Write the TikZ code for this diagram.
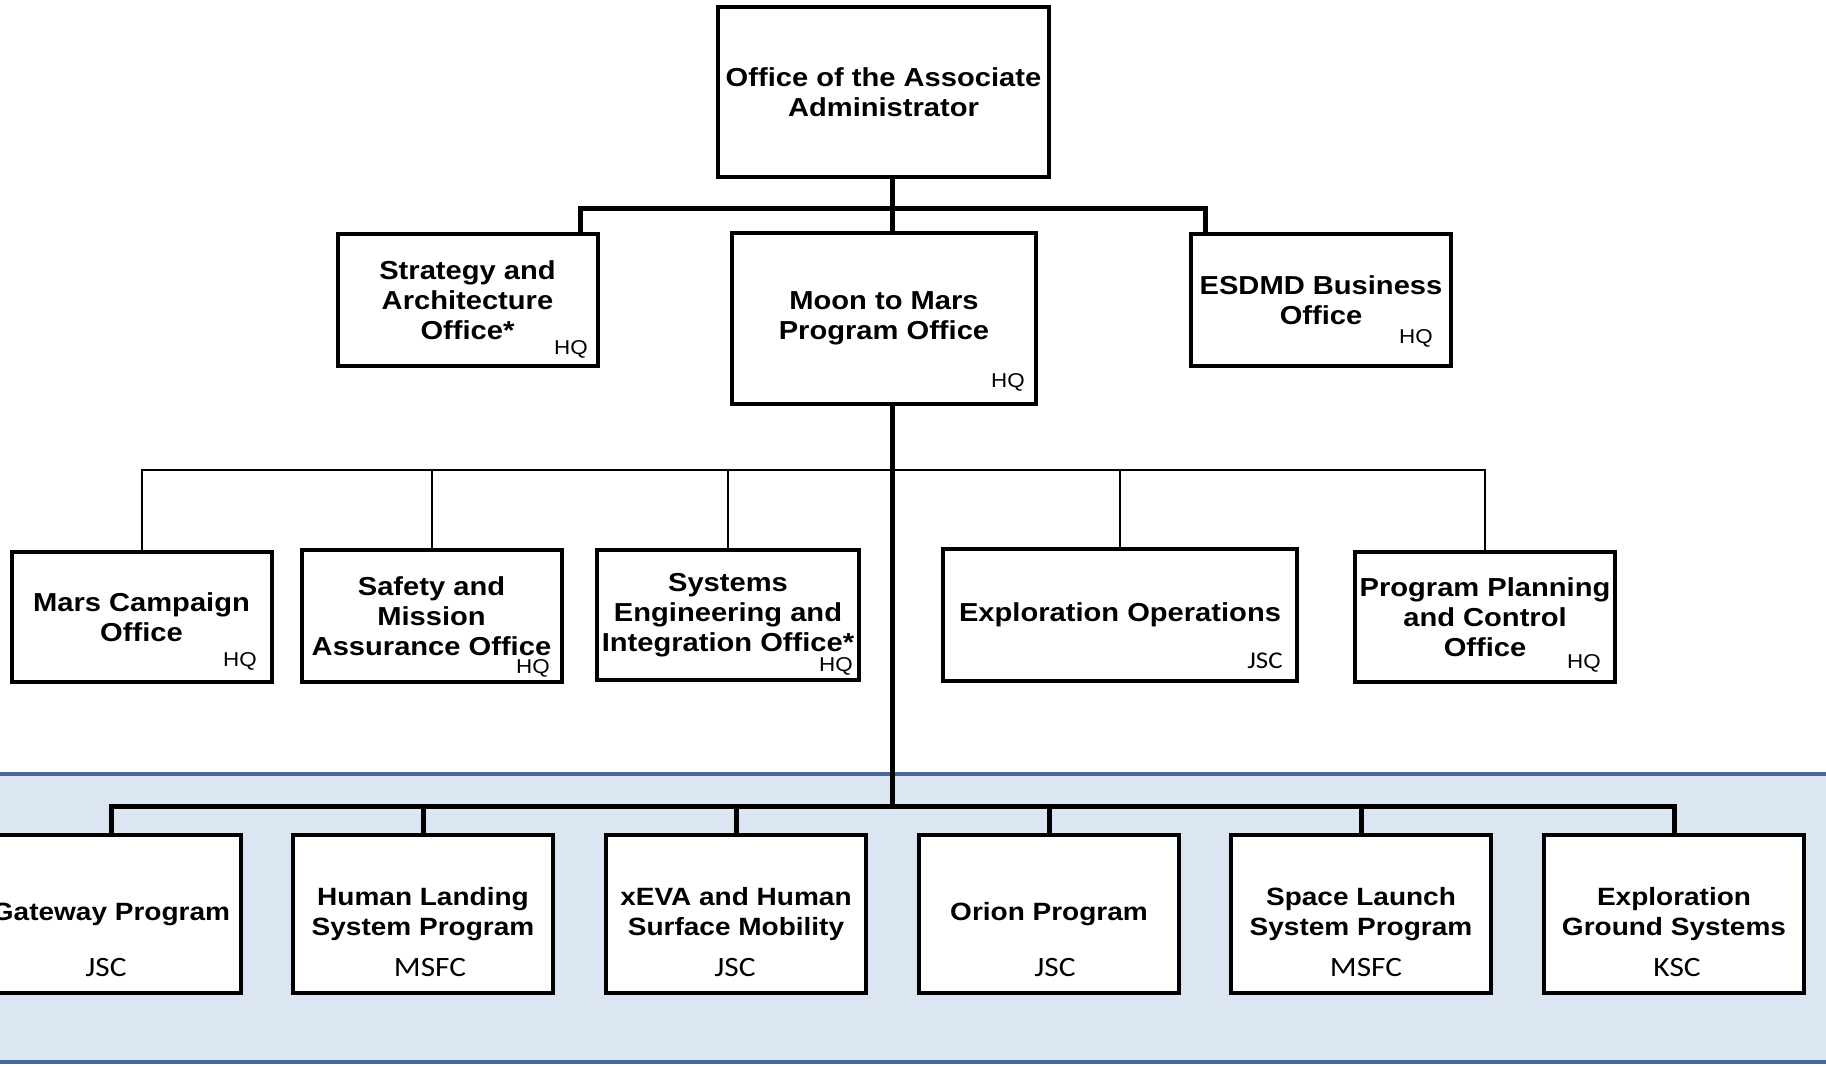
\documentclass[tikz,border=0pt]{standalone}
\usepackage{fontspec}
\setmainfont{Liberation Sans}[FakeStretch=1.12]
\newfontfamily\centrefont{Carlito}[FakeStretch=1.12]
\definecolor{bandfill}{RGB}{220,230,242}
\definecolor{bandline}{RGB}{70,104,152}

\begin{document}
\begin{tikzpicture}[x=1pt,y=-1pt,
    ob/.style={draw,line width=4pt,fill=white,inner sep=0pt,align=center,minimum width=260pt,minimum height=132pt,font=\fontsize{26}{30}\selectfont\bfseries},
    pb/.style={ob,minimum height=158pt,font=\fontsize{25}{30}\selectfont\bfseries},
    loc/.style={inner sep=0pt,font=\fontsize{20}{20}\selectfont},
    cen/.style={inner sep=0pt,font=\fontsize{28}{28}\selectfont\centrefont},
    bar/.style={line width=5pt},
    tie/.style={line width=2pt}]
    \useasboundingbox (0,0) rectangle (1826,1066);

    \fill[bandfill] (0,774) rectangle (1826,1062);
    \draw[bandline,line width=4pt] (0,774) -- (1826,774) (0,1062) -- (1826,1062);

    \node[ob,minimum width=331pt,minimum height=170pt] (oaa) at (883.5,92) {Office of the Associate\\Administrator};
    \node[ob] (sao) at (467.5,300) {Strategy and\\Architecture\\Office*};
    \node[ob,minimum width=304pt,minimum height=171pt] (m2m) at (884,318.5) {Moon to Mars\\Program Office};
    \node[ob] (esd) at (1321,300) {ESDMD Business\\Office};

    \node[ob,minimum height=130pt] (mco) at (141.5,617) {Mars Campaign\\Office};
    \node[ob] (sma) at (431.5,616) {Safety and\\Mission\\Assurance Office};
    \node[ob,minimum width=262pt,minimum height=130pt] (sei) at (728,615) {Systems\\Engineering and\\Integration Office*};
    \node[ob,minimum width=354pt] (eo) at (1120,615) {Exploration Operations};
    \node[ob,minimum height=130pt] (ppc) at (1485,617) {Program Planning\\and Control\\Office};

    \node[loc] (saoq) at (571,349) {HQ};
    \node[loc] (m2mq) at (1008,382) {HQ};
    \node[loc] (esdq) at (1416,338) {HQ};
    \node[loc] (mcoq) at (240,661) {HQ};
    \node[loc] (smaq) at (533,668) {HQ};
    \node[loc] (seiq) at (836,666) {HQ};
    \node[cen,font=\fontsize{24}{24}\selectfont\centrefont] (eoq) at (1265,661) {JSC};
    \node[loc] (ppcq) at (1584,663) {HQ};

    \foreach \n/\x/\c/\cx/\t in {gw/111/JSC/106/{Gateway Program},
        hls/423/MSFC/430/{Human Landing\\System Program},
        xeva/736/JSC/735/{xEVA and Human\\Surface Mobility},
        ori/1049/JSC/1055/{Orion Program},
        sls/1361/MSFC/1366/{Space Launch\\System Program},
        egs/1674/KSC/1677/{Exploration\\Ground Systems}}
    {
        \node[pb] (\n) at (\x,914) {\t};
        \node[cen] (\n q) at (\cx,967) {\c};
    }

    \coordinate (tk) at (892,208);
    \coordinate (sj) at (580,208);
    \coordinate (ej) at (1205,208);
    \coordinate (mj) at (892,470);
    \coordinate (bj) at (892,806);

    \draw[bar] (oaa.south -| tk) -- (m2m.north -| tk);
    \draw[bar] (sao.north -| sj) -- (sj) -- (ej) -- (esd.north -| ej);
    \draw[bar] (m2m.south -| tk) -- (bj);
    \draw[tie] (mco.north) |- (mj) -| (ppc.north);
    \foreach \b in {sma,sei,eo}
        \draw[tie] (\b.north) -- (\b.north |- mj);
    \draw[bar] (gw.north) |- (bj) -| (egs.north);
    \foreach \b in {hls,xeva,ori,sls}
        \draw[bar] (\b.north) -- (\b.north |- bj);
\end{tikzpicture}
\end{document}
